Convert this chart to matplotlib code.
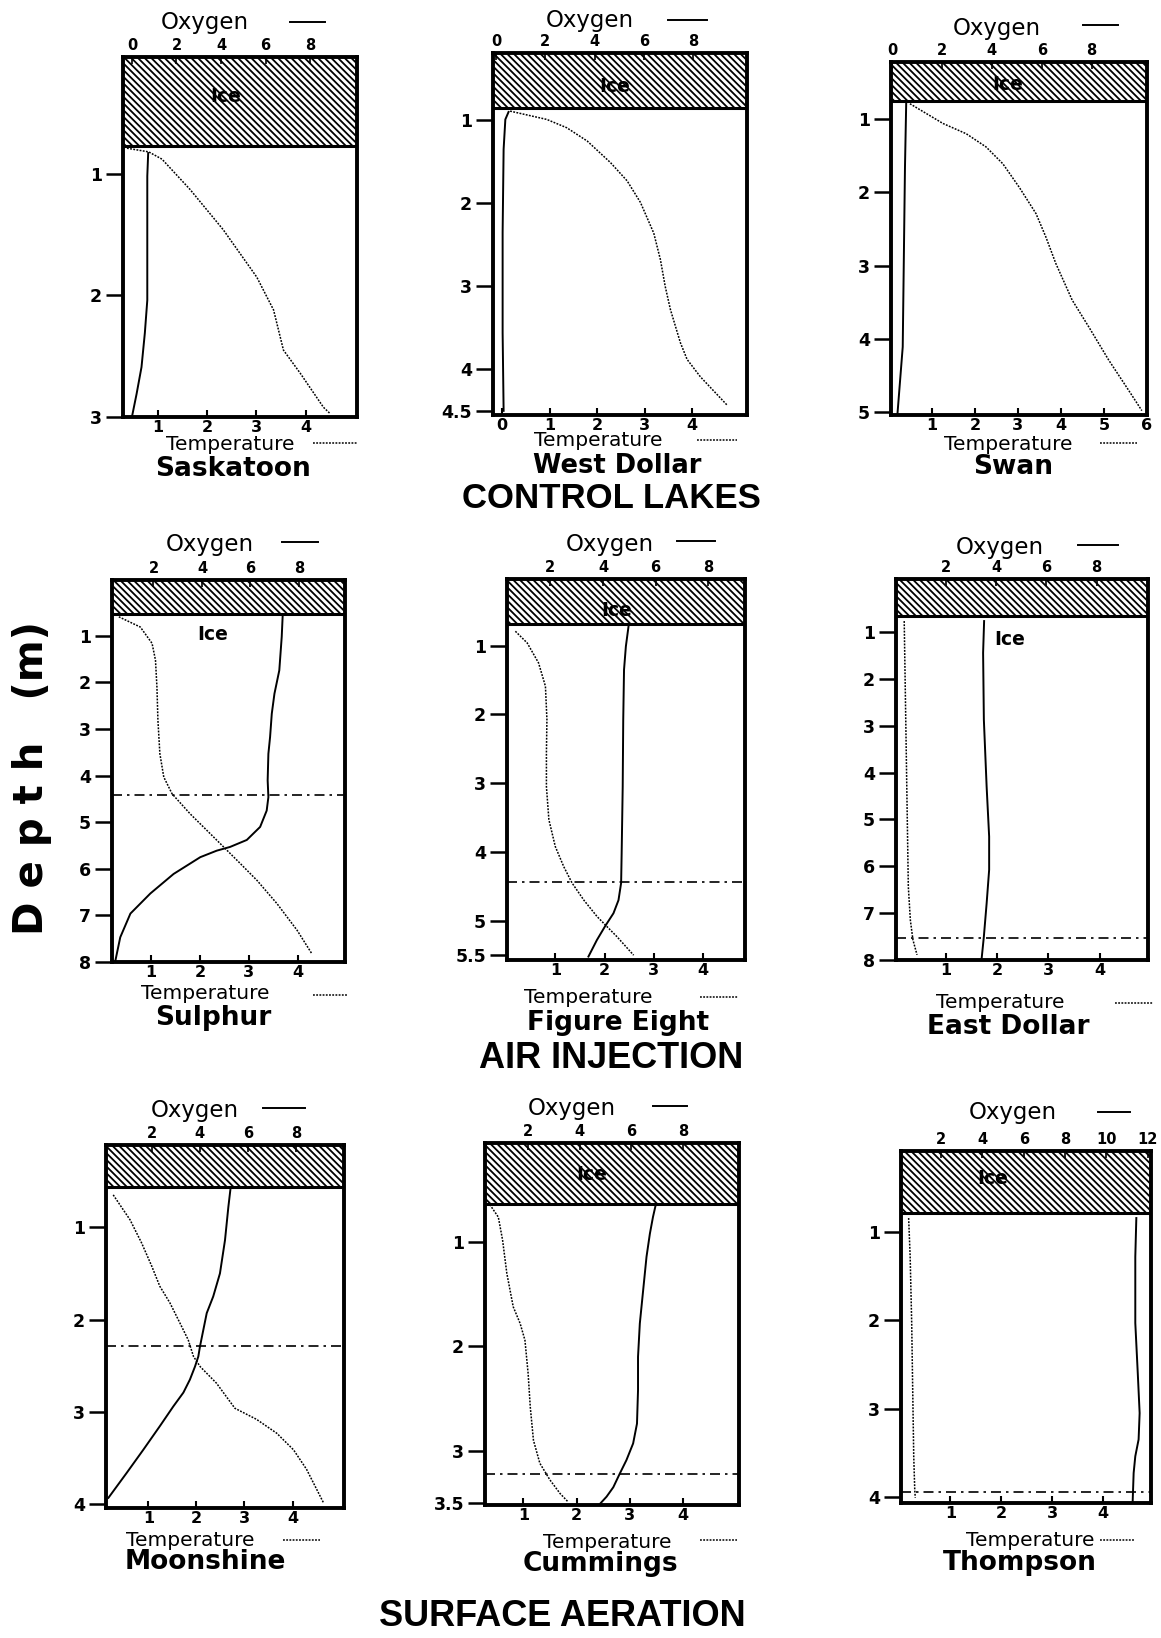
import matplotlib
matplotlib.use("Agg")
import matplotlib.pyplot as plt
from matplotlib.lines import Line2D

plt.rcParams['font.family'] = 'DejaVu Sans'
plt.rcParams['font.weight'] = 'bold'
plt.rcParams['hatch.linewidth'] = 1.3

W, H = 1161, 1638

# ---- data (depth m, temperature C, oxygen mg/L) ----
names = ["Saskatoon", "West Dollar", "Swan",
         "Sulphur", "Figure Eight", "East Dollar",
         "Moonshine", "Cummings", "Thompson"]
groups = ["CONTROL LAKES", "AIR INJECTION", "SURFACE AERATION"]

ice_depth = [0.77, 0.85, 0.75, 0.52, 0.69, 0.66, 0.57, 0.63, 0.78]
mix_depth = [None, None, None, 4.42, 4.44, 7.55, 2.29, 3.22, 3.94]

sask_oxy = [0.73, 0.69, 0.69, 0.69, 0.58, 0.43, 0.21, 0.0]
sask_oxy_d = [0.83, 1.02, 1.49, 2.04, 2.31, 2.59, 2.81, 3.0]
sask_temp = [0.38, 0.82, 1.09, 1.66, 2.33, 3.01, 3.35, 3.55, 3.89, 4.36, 4.49]
sask_temp_d = [0.79, 0.82, 0.88, 1.13, 1.46, 1.85, 2.12, 2.45, 2.64, 2.92, 2.97]

wd_oxy = [0.51, 0.38, 0.31, 0.27, 0.27, 0.31]
wd_oxy_d = [0.90, 0.99, 1.35, 2.35, 3.56, 4.50]
wd_temp = [0.17, 0.94, 1.36, 1.79, 2.28, 2.63, 2.91, 3.19, 3.33, 3.43, 3.54, 3.75, 3.89, 4.17, 4.73]
wd_temp_d = [0.89, 0.99, 1.09, 1.25, 1.51, 1.73, 1.99, 2.36, 2.68, 3.00, 3.28, 3.68, 3.88, 4.09, 4.43]

swan_oxy = [0.57, 0.52, 0.47, 0.43, 0.22]
swan_oxy_d = [0.77, 1.66, 3.02, 4.11, 5.02]
swan_temp = [0.49, 1.26, 1.80, 2.26, 2.65, 3.03, 3.42, 3.65, 3.88, 4.26, 4.65, 5.11, 5.57, 5.88]
swan_temp_d = [0.79, 1.06, 1.20, 1.38, 1.61, 1.93, 2.29, 2.61, 2.97, 3.47, 3.84, 4.29, 4.70, 4.98]

sul_oxy = [7.33, 7.29, 7.19, 6.99, 6.88, 6.81, 6.74, 6.71, 6.74, 6.67, 6.40, 5.85, 5.16, 4.61,
           3.93, 2.83, 1.87, 1.05, 0.63, 0.43]
sul_oxy_d = [0.56, 1.02, 1.74, 2.24, 2.67, 3.17, 3.53, 4.10, 4.46, 4.75, 5.10, 5.38, 5.53, 5.61,
             5.75, 6.11, 6.53, 6.96, 7.47, 7.97]
sul_temp = [0.34, 0.78, 1.02, 1.09, 1.12, 1.14, 1.18, 1.26, 1.43, 1.80, 2.35, 2.83, 3.17, 3.58, 3.99, 4.29]
sul_temp_d = [0.59, 0.81, 1.16, 1.52, 2.10, 2.81, 3.53, 4.03, 4.39, 4.82, 5.39, 5.89, 6.25, 6.75, 7.32, 7.82]

fe_oxy = [4.97, 4.87, 4.80, 4.77, 4.75, 4.72, 4.71, 4.69, 4.59, 4.40, 4.08, 3.77, 3.45]
fe_oxy_d = [0.72, 1.01, 1.35, 2.08, 3.05, 3.78, 4.02, 4.45, 4.70, 4.89, 5.08, 5.28, 5.52]
fe_temp = [0.19, 0.43, 0.66, 0.80, 0.83, 0.82, 0.82, 0.87, 1.00, 1.17, 1.34, 1.58, 1.85, 2.25, 2.59]
fe_temp_d = [0.79, 0.96, 1.25, 1.59, 2.07, 2.56, 3.05, 3.53, 3.92, 4.21, 4.45, 4.70, 4.94, 5.23, 5.50]

ed_oxy = [3.53, 3.49, 3.52, 3.63, 3.73, 3.73, 3.63, 3.52, 3.43]
ed_oxy_d = [0.76, 1.44, 2.87, 4.30, 5.37, 6.08, 6.80, 7.51, 7.99]
ed_temp = [0.19, 0.21, 0.23, 0.25, 0.27, 0.31, 0.36, 0.44]
ed_temp_d = [0.76, 2.16, 3.58, 5.01, 6.44, 7.16, 7.58, 7.90]

ms_oxy = [5.28, 5.19, 5.05, 4.84, 4.56, 4.29, 4.15, 4.01, 3.94, 3.80, 3.59, 3.32, 2.90, 2.35,
          1.65, 0.96, 0.20]
ms_oxy_d = [0.58, 0.78, 1.14, 1.50, 1.75, 1.93, 2.11, 2.29, 2.40, 2.51, 2.65, 2.79, 2.94, 3.15,
            3.41, 3.66, 3.93]
ms_temp = [0.27, 0.62, 0.86, 1.07, 1.24, 1.45, 1.66, 1.83, 1.94, 2.08, 2.42, 2.80, 3.25, 3.67,
           4.02, 4.29, 4.64]
ms_temp_d = [0.65, 0.92, 1.17, 1.42, 1.64, 1.82, 2.04, 2.22, 2.40, 2.51, 2.69, 2.96, 3.08, 3.23,
             3.41, 3.62, 3.98]

cu_oxy = [6.95, 6.84, 6.72, 6.59, 6.46, 6.33, 6.26, 6.26, 6.22, 6.07, 5.81, 5.55, 5.30, 5.04, 4.78]
cu_oxy_d = [0.64, 0.76, 0.92, 1.14, 1.46, 1.78, 2.10, 2.42, 2.74, 2.93, 3.09, 3.22, 3.35, 3.44, 3.51]
cu_temp = [0.37, 0.53, 0.61, 0.69, 0.81, 0.94, 1.03, 1.09, 1.13, 1.19, 1.31, 1.50, 1.69, 1.84]
cu_temp_d = [0.64, 0.76, 0.98, 1.30, 1.62, 1.78, 1.94, 2.26, 2.58, 2.90, 3.12, 3.28, 3.41, 3.49]

th_oxy = [11.45, 11.40, 11.40, 11.52, 11.61, 11.56, 11.40, 11.32, 11.27]
th_oxy_d = [0.84, 1.28, 2.03, 2.60, 3.05, 3.35, 3.54, 3.73, 4.07]
th_temp = [0.18, 0.21, 0.24, 0.26, 0.28, 0.30, 0.31]
th_temp_d = [0.84, 1.28, 2.03, 2.79, 3.54, 3.92, 4.01]

oxy_series = [(sask_oxy, sask_oxy_d), (wd_oxy, wd_oxy_d), (swan_oxy, swan_oxy_d),
              (sul_oxy, sul_oxy_d), (fe_oxy, fe_oxy_d), (ed_oxy, ed_oxy_d),
              (ms_oxy, ms_oxy_d), (cu_oxy, cu_oxy_d), (th_oxy, th_oxy_d)]
temp_series = [(sask_temp, sask_temp_d), (wd_temp, wd_temp_d), (swan_temp, swan_temp_d),
               (sul_temp, sul_temp_d), (fe_temp, fe_temp_d), (ed_temp, ed_temp_d),
               (ms_temp, ms_temp_d), (cu_temp, cu_temp_d), (th_temp, th_temp_d)]

depth_ticks = [[1, 2, 3], [1, 2, 3, 4, 4.5], [1, 2, 3, 4, 5],
               [1, 2, 3, 4, 5, 6, 7, 8], [1, 2, 3, 4, 5, 5.5], [1, 2, 3, 4, 5, 6, 7, 8],
               [1, 2, 3, 4], [1, 2, 3, 3.5], [1, 2, 3, 4]]
temp_ticks = [[1, 2, 3, 4], [0, 1, 2, 3, 4], [1, 2, 3, 4, 5, 6],
              [1, 2, 3, 4], [1, 2, 3, 4], [1, 2, 3, 4],
              [1, 2, 3, 4], [1, 2, 3, 4], [1, 2, 3, 4]]
oxy_ticks = [[0, 2, 4, 6, 8], [0, 2, 4, 6, 8], [0, 2, 4, 6, 8],
             [2, 4, 6, 8], [2, 4, 6, 8], [2, 4, 6, 8],
             [2, 4, 6, 8], [2, 4, 6, 8], [2, 4, 6, 8, 10, 12]]

# ---- layout (pixel positions on the 1161x1638 page) ----
# box = left, top, right, bottom ; lims follow the scan's own scales
layout = [
    dict(box=(123, 57, 357, 417), tl=(0.30, 5.04), ol=(-0.40, 10.1), dl=(3.0, 0.04),
         oxy=(205, 23), oline=(290, 325, 22), tmp=(230, 445), tline=(313, 357, 443),
         name=(233, 469), ice=(226, 97)),
    dict(box=(493, 53, 747, 415), tl=(-0.19, 5.15), ol=(-0.12, 10.17), dl=(4.55, 0.19),
         oxy=(590, 20), oline=(668, 707, 20), tmp=(598, 440), tline=(697, 737, 440),
         name=(617, 466), ice=(615, 87)),
    dict(box=(891, 62, 1147, 415), tl=(0.05, 5.97), ol=(-0.04, 10.22), dl=(5.04, 0.22),
         oxy=(997, 28), oline=(1083, 1118, 25), tmp=(1008, 445), tline=(1100, 1137, 443),
         name=(1013, 467), ice=(1008, 85)),
    dict(box=(112, 580, 345, 962), tl=(0.20, 4.97), ol=(0.29, 9.9), dl=(8.0, -0.2),
         oxy=(210, 545), oline=(282, 318, 542), tmp=(205, 994), tline=(313, 347, 995),
         name=(213, 1018), ice=(213, 635)),
    dict(box=(507, 579, 745, 960), tl=(0.02, 4.85), ol=(0.36, 9.39), dl=(5.57, 0.03),
         oxy=(610, 545), oline=(677, 715, 541), tmp=(588, 998), tline=(700, 738, 997),
         name=(618, 1023), ice=(617, 610)),
    dict(box=(896, 579, 1148, 960), tl=(0.03, 4.94), ol=(0.03, 10.04), dl=(8.01, -0.14),
         oxy=(1000, 548), oline=(1078, 1118, 545), tmp=(1000, 1002), tline=(1115, 1153, 1003),
         name=(1008, 1027), ice=(1010, 640)),
    dict(box=(106, 1145, 344, 1508), tl=(0.12, 5.07), ol=(0.10, 10.0), dl=(4.04, 0.11),
         oxy=(195, 1110), oline=(263, 305, 1108), tmp=(190, 1540), tline=(283, 320, 1540),
         name=(205, 1562), ice=None),
    dict(box=(485, 1143, 739, 1505), tl=(0.28, 5.05), ol=(0.32, 10.18), dl=(3.52, 0.05),
         oxy=(572, 1108), oline=(653, 687, 1106), tmp=(607, 1542), tline=(700, 737, 1540),
         name=(600, 1564), ice=(592, 1175)),
    dict(box=(901, 1151, 1151, 1503), tl=(0.03, 4.94), ol=(0.06, 12.16), dl=(4.07, 0.08),
         oxy=(1013, 1113), oline=(1098, 1130, 1112), tmp=(1030, 1540), tline=(1100, 1135, 1540),
         name=(1020, 1563), ice=(993, 1179)),
]
group_pos = [(611, 499), (611, 1058), (562, 1617)]
group_size = [25, 26, 26]

fig = plt.figure(figsize=(W / 100, H / 100), dpi=100)


def ftext(x, y, s, **kw):
    fig.text(x / W, 1 - y / H, s, ha='center', va='center', **kw)


def fline(x0, x1, y, **kw):
    fig.add_artist(Line2D([x0 / W, x1 / W], [1 - y / H, 1 - y / H],
                          transform=fig.transFigure, color='black', **kw))


for i, lay in enumerate(layout):
    l, t, r, b = lay['box']
    ax = fig.add_axes([l / W, 1 - b / H, (r - l) / W, (b - t) / H])
    ax.set_xlim(*lay['tl'])
    ax.set_ylim(*lay['dl'])
    ax2 = ax.twiny()
    ax2.set_xlim(*lay['ol'])

    # ice cover
    ax.axhspan(lay['dl'][1], ice_depth[i], facecolor='white', edgecolor='black',
               hatch='\\' * 5, linewidth=0, zorder=1)
    ax.axhline(ice_depth[i], color='black', lw=2.2, zorder=3)

    tx, td = temp_series[i]
    ax.plot(tx, td, color='black', lw=1.1, ls=(0, (1.2, 0.9)), zorder=4)
    ox, od = oxy_series[i]
    ax2.plot(ox, od, color='black', lw=1.4, zorder=4)
    if mix_depth[i] is not None:
        ax.axhline(mix_depth[i], color='black', lw=1.2, ls=(0, (6, 3, 1.5, 3)), zorder=4)

    ax.set_yticks(depth_ticks[i])
    ax.set_yticklabels(['%g' % d for d in depth_ticks[i]])
    ax.set_xticks(temp_ticks[i])
    ax2.set_xticks(oxy_ticks[i])
    ax.tick_params(axis='y', direction='out', length=12, width=1.8, labelsize=12.5, pad=3)
    ax.tick_params(axis='x', direction='in', length=5, width=1.5, labelsize=11.5, pad=2)
    ax2.tick_params(axis='x', direction='in', length=5, width=1.2, labelsize=10.5, pad=3)
    for s in ax.spines.values():
        s.set_linewidth(2.8)
    for s in ax2.spines.values():
        s.set_visible(False)

    # labels and little legend keys
    ftext(*lay['oxy'], "Oxygen", fontsize=16.5, fontweight='normal')
    fline(lay['oline'][0], lay['oline'][1], lay['oline'][2], lw=1.4)
    ftext(*lay['tmp'], "Temperature", fontsize=14.5, fontweight='normal')
    fline(lay['tline'][0], lay['tline'][1], lay['tline'][2], lw=1.1, ls=(0, (1.2, 0.9)))
    ftext(*lay['name'], names[i], fontsize=18.5 if i == 1 else 19, fontweight='bold')
    if lay['ice'] is not None:
        ftext(*lay['ice'], "Ice", fontsize=13.5, fontweight='bold')

for g, (gx, gy), gs in zip(groups, group_pos, group_size):
    ftext(gx, gy, g, fontsize=gs, fontweight='bold', family='Liberation Sans')

ftext(32, 778, "D e p t h   (m)", fontsize=29, fontweight='bold', rotation=90)

fig.savefig("out.png", dpi=100)
